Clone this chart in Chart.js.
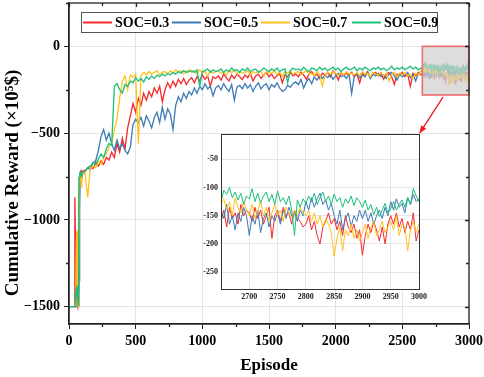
<!DOCTYPE html>
<html>
<head>
<meta charset="utf-8">
<script src="https://cdn.jsdelivr.net/npm/chart.js@4.4.0/dist/chart.umd.min.js"></script>
<style>
  html, body { margin: 0; padding: 0; background: #fff; }
  #wrap { position: relative; width: 484px; height: 377px; }
  #main { position: absolute; left: 0; top: 0; }
  #inset { position: absolute; left: 185px; top: 126px; }
</style>
</head>
<body>
<div id="wrap">
  <canvas id="main" width="484" height="377" style="width:484px;height:377px"></canvas>
  <canvas id="inset" width="245" height="180" style="width:245px;height:180px"></canvas>
</div>
<script>
// ---- data ----
var seriesNames = ['SOC=0.3', 'SOC=0.5', 'SOC=0.7', 'SOC=0.9'];
var colors = ['#f5282d', '#3d7ab3', '#ffc21c', '#19c07a'];

// episodes for the main curve: first 100 episodes in detail, then every 20
var mainEpisodes = [0, 20, 40, 44, 48, 52, 56, 60, 64, 68, 72, 76, 80, 84, 88, 92, 96, 100];
for (var e = 120; e <= 2640; e += 20) mainEpisodes.push(e);

var soc03 = [
  -1500,-1500,-1500,-870,-1080,-1350,-1480,-1490,-1500,-1500,-1250,-760,-745,-730,-750,-725,-740,-720,
  -715,-700,-690,-705,-670,-690,-660,-680,-640,-655,
  -610,-640,-560,-610,-530,-590,-470,-400,-330,-380,
  -300,-340,-270,-310,-260,-290,-240,-270,-230,-320,
  -250,-210,-240,-200,-230,-190,-215,-185,-220,-195,
  -180,-210,-175,-200,-165,-190,-170,-230,-175,-185,
  -170,-195,-160,-180,-200,-165,-185,-160,-175,-190,
  -165,-180,-155,-200,-170,-160,-185,-165,-150,-175,
  -160,-185,-170,-155,-210,-165,-175,-150,-170,-160,
  -175,-150,-165,-190,-160,-145,-170,-160,-185,-155,
  -165,-150,-175,-140,-160,-195,-150,-170,-155,-165,
  -150,-175,-160,-210,-155,-165,-145,-180,-160,-150,
  -170,-155,-190,-160,-150,-175,-220,-160,-165,-150,
  -175,-160,-230,-155,-170,-150,-165
];
var soc05 = [
  -1500,-1500,-1500,-1500,-1500,-1500,-1500,-1500,-1500,-1500,-1480,-1350,-940,-760,-745,-755,-735,-740,
  -720,-700,-710,-670,-660,-600,-520,-480,-540,-500,
  -560,-600,-540,-590,-560,-600,-620,-580,-450,-420,
  -440,-410,-460,-400,-430,-470,-410,-380,-440,-350,
  -420,-360,-390,-480,-340,-290,-320,-270,-300,-260,
  -280,-240,-270,-230,-250,-215,-245,-230,-285,-240,
  -225,-250,-215,-240,-260,-220,-310,-235,-225,-245,
  -215,-240,-220,-260,-230,-210,-245,-225,-215,-250,
  -220,-235,-210,-240,-260,-250,-225,-235,-215,-205,
  -220,-190,-240,-205,-185,-215,-175,-195,-170,-185,
  -165,-180,-160,-190,-170,-155,-175,-165,-185,-160,
  -270,-170,-155,-180,-165,-175,-150,-185,-160,-170,
  -155,-175,-165,-185,-160,-150,-170,-195,-160,-175,
  -165,-150,-180,-160,-200,-155,-145
];
var soc07 = [
  -1500,-1500,-1500,-1500,-1490,-1300,-1100,-1060,-1380,-1500,-1350,-770,-750,-760,-740,-810,-745,-730,
  -730,-870,-700,-690,-700,-660,-680,-640,-620,-580,
  -560,-480,-420,-300,-200,-170,-250,-165,-180,-160,
  -560,-170,-150,-165,-145,-160,-150,-140,-165,-150,
  -145,-160,-140,-155,-135,-150,-140,-160,-145,-135,
  -150,-140,-160,-135,-150,-145,-170,-140,-155,-145,
  -140,-155,-150,-165,-140,-150,-135,-160,-145,-155,
  -150,-140,-165,-145,-155,-140,-150,-170,-145,-150,
  -155,-140,-160,-150,-175,-145,-155,-140,-160,-150,
  -145,-165,-150,-140,-160,-155,-170,-145,-160,-230,
  -170,-150,-160,-145,-155,-170,-150,-165,-145,-160,
  -155,-165,-150,-170,-145,-160,-155,-175,-150,-160,
  -165,-150,-170,-155,-200,-160,-150,-175,-155,-165,
  -150,-170,-160,-185,-155,-165,-140
];
var soc09 = [
  -1500,-1500,-1500,-1480,-1430,-1400,-1420,-1380,-1450,-1490,-1050,-755,-740,-750,-735,-745,-730,-725,
  -720,-700,-690,-670,-680,-650,-620,-640,-590,-560,
  -570,-230,-215,-250,-270,-220,-230,-200,-210,-180,
  -200,-185,-205,-175,-190,-170,-185,-165,-175,-160,
  -170,-155,-165,-150,-160,-145,-155,-140,-150,-145,
  -140,-150,-135,-230,-145,-140,-130,-150,-135,-145,
  -140,-130,-150,-135,-145,-125,-140,-135,-150,-130,
  -140,-125,-145,-135,-130,-150,-140,-125,-135,-145,
  -130,-140,-125,-145,-135,-130,-210,-140,-125,-135,
  -130,-140,-120,-135,-145,-125,-130,-140,-120,-135,
  -125,-140,-130,-120,-135,-125,-145,-130,-120,-135,
  -130,-120,-140,-125,-135,-120,-130,-140,-125,-130,
  -120,-135,-125,-140,-130,-115,-135,-125,-130,-120,
  -135,-125,-115,-130,-120,-135,-125
];

// zoomed window 2650..3000, every 5 episodes
var insetEpisodes = [];
for (var k = 2650; k <= 3000; k += 5) insetEpisodes.push(k);

var inset03 = [
  -160,-140,-170,-135,-155,-145,-165,-130,-150,-140,
  -145,-160,-135,-155,-140,-165,-150,-135,-190,-150,
  -140,-160,-135,-150,-145,-165,-140,-155,-160,-170,
  -165,-150,-175,-160,-185,-200,-170,-160,-145,-165,
  -155,-175,-160,-185,-150,-170,-180,-165,-190,-175,
  -220,-185,-165,-180,-160,-175,-195,-170,-200,-165,
  -150,-165,-145,-170,-155,-180,-160,-175,-145,-195,
  -175
];
var inset05 = [
  -140,-155,-130,-165,-150,-175,-145,-160,-135,-150,
  -185,-150,-165,-140,-180,-155,-145,-170,-150,-160,
  -145,-165,-140,-155,-135,-150,-145,-160,-140,-150,
  -125,-140,-118,-135,-120,-110,-130,-122,-140,-128,
  -150,-165,-140,-175,-155,-145,-170,-150,-160,-140,
  -155,-140,-160,-145,-165,-150,-140,-155,-135,-150,
  -125,-140,-120,-135,-128,-145,-118,-130,-112,-125,
  -120
];
var inset07 = [
  -130,-120,-140,-125,-150,-118,-135,-145,-125,-140,
  -150,-130,-155,-140,-125,-150,-135,-160,-145,-130,
  -150,-140,-160,-135,-145,-155,-140,-150,-135,-145,
  -150,-140,-160,-145,-165,-150,-170,-155,-165,-180,
  -222,-190,-170,-212,-175,-185,-165,-190,-175,-195,
  -180,-165,-190,-170,-160,-185,-175,-160,-180,-170,
  -160,-175,-150,-185,-165,-170,-212,-175,-160,-180,
  -165
];
var inset09 = [
  -125,-105,-112,-100,-118,-108,-122,-110,-130,-115,
  -120,-102,-125,-110,-128,-115,-108,-125,-112,-130,
  -106,-125,-118,-130,-115,-140,-185,-122,-135,-120,
  -128,-115,-125,-110,-130,-118,-108,-125,-115,-130,
  -112,-125,-118,-135,-120,-128,-115,-132,-118,-125,
  -135,-122,-140,-130,-148,-135,-152,-140,-128,-145,
  -138,-125,-140,-130,-122,-135,-118,-130,-102,-115,
  -125
];

var mainTicksX = [0, 500, 1000, 1500, 2000, 2500, 3000];
var mainTicksY = [-1500, -1000, -500, 0];
var insetTicksX = [2700, 2750, 2800, 2850, 2900, 2950, 3000];
var insetTicksY = [-250, -200, -150, -100, -50];
var yTitle = 'Cumulative Reward (\u00d710\u2075$)';

var SERIF = "'Liberation Serif', 'Times New Roman', serif";

function pts(xs, ys) {
  return xs.map(function (x, i) { return { x: x, y: ys[i] }; });
}

var mainVals = [soc03, soc05, soc07, soc09];
var insetVals = [inset03, inset05, inset07, inset09];

var mainSets = mainVals.map(function (v, i) {
  return {
    label: seriesNames[i],
    data: pts(mainEpisodes, v).concat(pts(insetEpisodes, insetVals[i])),
    borderColor: colors[i],
    borderWidth: 1.3,
    pointRadius: 0,
    tension: 0,
    order: 4 - i
  };
});

var insetSets = insetVals.map(function (v, i) {
  return {
    label: seriesNames[i],
    data: pts(insetEpisodes, v),
    borderColor: colors[i],
    borderWidth: 1,
    pointRadius: 0,
    tension: 0,
    order: 4 - i
  };
});

function keepTicks(list) {
  return function (scale) {
    scale.ticks = list.map(function (v) { return { value: v }; });
  };
}

// fixed axis box sizes, no automatic label padding
function fixSize(w, h) {
  return function (s) {
    if (w !== null) s.width = w;
    if (h !== null) s.height = h;
    s.paddingTop = 0;
    s.paddingBottom = 0;
    s.paddingLeft = 0;
    s.paddingRight = 0;
  };
}

// frame, minor ticks, zoom box, arrow, y title and legend of the main plot
var mainDecor = {
  id: 'mainDecor',
  beforeDraw: function (chart) {
    var ctx = chart.ctx;
    ctx.save();
    ctx.fillStyle = '#fff';
    ctx.fillRect(0, 0, chart.width, chart.height);
    ctx.restore();
  },
  afterDatasetsDraw: function (chart) {
    var ctx = chart.ctx, x = chart.scales.x, y = chart.scales.y;
    var x0 = x.getPixelForValue(2650), x1 = x.getPixelForValue(3000);
    var y0 = y.getPixelForValue(0), y1 = y.getPixelForValue(-280);
    ctx.save();
    ctx.fillStyle = 'rgba(208,208,208,0.72)';
    ctx.fillRect(x0, y0, x1 - x0, y1 - y0);
    ctx.strokeStyle = '#f06a6a';
    ctx.lineWidth = 1.6;
    ctx.strokeRect(x0, y0, x1 - x0, y1 - y0);

    // arrow towards the inset
    var ax = x.getPixelForValue(2805), ay = y.getPixelForValue(-292);
    var bx = x.getPixelForValue(2630), by = y.getPixelForValue(-500);
    ctx.strokeStyle = '#ee1c1c';
    ctx.fillStyle = '#ee1c1c';
    ctx.lineWidth = 1.3;
    ctx.beginPath();
    ctx.moveTo(ax, ay);
    ctx.lineTo(bx, by);
    ctx.stroke();
    var ang = Math.atan2(by - ay, bx - ax), h = 8;
    ctx.beginPath();
    ctx.moveTo(bx, by);
    ctx.lineTo(bx - h * Math.cos(ang - 0.4), by - h * Math.sin(ang - 0.4));
    ctx.lineTo(bx - h * Math.cos(ang + 0.4), by - h * Math.sin(ang + 0.4));
    ctx.closePath();
    ctx.fill();
    ctx.restore();
  },
  afterDraw: function (chart) {
    var ctx = chart.ctx, a = chart.chartArea, x = chart.scales.x, y = chart.scales.y;
    ctx.save();
    ctx.strokeStyle = '#222';
    ctx.lineWidth = 1.3;
    ctx.strokeRect(a.left, a.top, a.right - a.left, a.bottom - a.top);
    ctx.beginPath();
    var v, p;
    for (v = 0; v <= 3000; v += 250) {
      p = Math.round(x.getPixelForValue(v)) + 0.5;
      if (v % 500) { ctx.moveTo(p, a.bottom); ctx.lineTo(p, a.bottom + 3); }
      ctx.moveTo(p, a.top); ctx.lineTo(p, a.top + (v % 500 ? 3 : 4));
    }
    for (v = -1500; v <= 250; v += 250) {
      p = Math.round(y.getPixelForValue(v)) + 0.5;
      if (v % 500) { ctx.moveTo(a.left, p); ctx.lineTo(a.left - 3, p); }
      ctx.moveTo(a.right, p); ctx.lineTo(a.right - (v % 500 ? 3 : 4), p);
    }
    ctx.stroke();

    // y axis title, sits a bit below the plot centre in the original
    ctx.save();
    ctx.translate(13, 183);
    ctx.rotate(-Math.PI / 2);
    ctx.fillStyle = '#000';
    ctx.font = 'bold 19px ' + SERIF;
    ctx.textAlign = 'center';
    ctx.textBaseline = 'middle';
    ctx.fillText(yTitle, 0, 0);
    ctx.restore();

    // legend
    var lx = 81, ly = 12, lw = 356, lh = 20;
    ctx.fillStyle = '#fff';
    ctx.fillRect(lx, ly, lw, lh);
    ctx.strokeStyle = '#555';
    ctx.lineWidth = 1;
    ctx.strokeRect(lx + 0.5, ly + 0.5, lw, lh);
    var lineX = [83, 172, 261, 352];
    ctx.font = 'bold 14px ' + SERIF;
    ctx.textBaseline = 'middle';
    ctx.textAlign = 'left';
    for (var i = 0; i < 4; i++) {
      ctx.strokeStyle = colors[i];
      ctx.lineWidth = 2;
      ctx.beginPath();
      ctx.moveTo(lineX[i], ly + 10.5);
      ctx.lineTo(lineX[i] + 29, ly + 10.5);
      ctx.stroke();
      ctx.fillStyle = '#000';
      ctx.fillText(seriesNames[i], lineX[i] + 32, ly + 11);
    }
    ctx.restore();
  }
};

new Chart(document.getElementById('main'), {
  type: 'line',
  data: { datasets: mainSets },
  options: {
    responsive: false,
    animation: false,
    events: [],
    layout: { padding: { top: 3, right: 15, left: 0, bottom: 0 } },
    plugins: { legend: { display: false }, tooltip: { enabled: false } },
    scales: {
      x: {
        type: 'linear',
        min: 0,
        max: 3000,
        afterBuildTicks: keepTicks(mainTicksX),
        afterFit: fixSize(null, 53),
        grid: { color: '#e4e4e4', tickColor: '#222', tickLength: 5 },
        border: { color: '#222', width: 1.3 },
        ticks: {
          color: '#000',
          padding: 4,
          maxRotation: 0,
          font: { family: SERIF, size: 14, weight: 'bold' },
          callback: function (v) { return String(v); }
        },
        title: {
          display: true,
          text: 'Episode',
          color: '#000',
          padding: { top: 0, bottom: 1 },
          font: { family: SERIF, size: 17, weight: 'bold' }
        }
      },
      y: {
        min: -1600,
        max: 250,
        afterBuildTicks: keepTicks(mainTicksY),
        afterFit: fixSize(69, null),
        grid: { color: '#e4e4e4', tickColor: '#222', tickLength: 5 },
        border: { color: '#222', width: 1.3 },
        ticks: {
          color: '#000',
          padding: 4,
          font: { family: SERIF, size: 14, weight: 'bold' },
          callback: function (v) { return v < 0 ? '\u2212' + Math.abs(v) : String(v); }
        }
      }
    }
  },
  plugins: [mainDecor]
});

// white plot area and frame for the inset
var insetDecor = {
  id: 'insetDecor',
  beforeDraw: function (chart) {
    var ctx = chart.ctx, a = chart.chartArea;
    ctx.save();
    ctx.fillStyle = '#fff';
    ctx.fillRect(a.left, a.top, a.right - a.left, a.bottom - a.top);
    ctx.restore();
  },
  afterDraw: function (chart) {
    var ctx = chart.ctx, a = chart.chartArea;
    ctx.save();
    ctx.strokeStyle = '#333';
    ctx.lineWidth = 1;
    ctx.strokeRect(a.left + 0.5, a.top + 0.5, a.right - a.left, a.bottom - a.top);
    ctx.restore();
  }
};

new Chart(document.getElementById('inset'), {
  type: 'line',
  data: { datasets: insetSets },
  options: {
    responsive: false,
    animation: false,
    events: [],
    layout: { padding: { top: 8, right: 11, left: 0, bottom: 0 } },
    plugins: { legend: { display: false }, tooltip: { enabled: false } },
    scales: {
      x: {
        type: 'linear',
        min: 2650,
        max: 3000,
        afterBuildTicks: keepTicks(insetTicksX),
        afterFit: fixSize(null, 17),
        grid: { color: '#e6e6e6', drawTicks: false },
        border: { display: false },
        ticks: {
          color: '#222',
          padding: 3,
          maxRotation: 0,
          font: { family: SERIF, size: 8, weight: 'bold' },
          callback: function (v) { return String(v); }
        }
      },
      y: {
        min: -280,
        max: -5,
        afterBuildTicks: keepTicks(insetTicksY),
        afterFit: fixSize(36, null),
        grid: { color: '#e6e6e6', drawTicks: false },
        border: { display: false },
        ticks: {
          color: '#222',
          padding: 3,
          font: { family: SERIF, size: 8, weight: 'bold' },
          callback: function (v) { return String(v); }
        }
      }
    }
  },
  plugins: [insetDecor]
});
</script>
</body>
</html>
